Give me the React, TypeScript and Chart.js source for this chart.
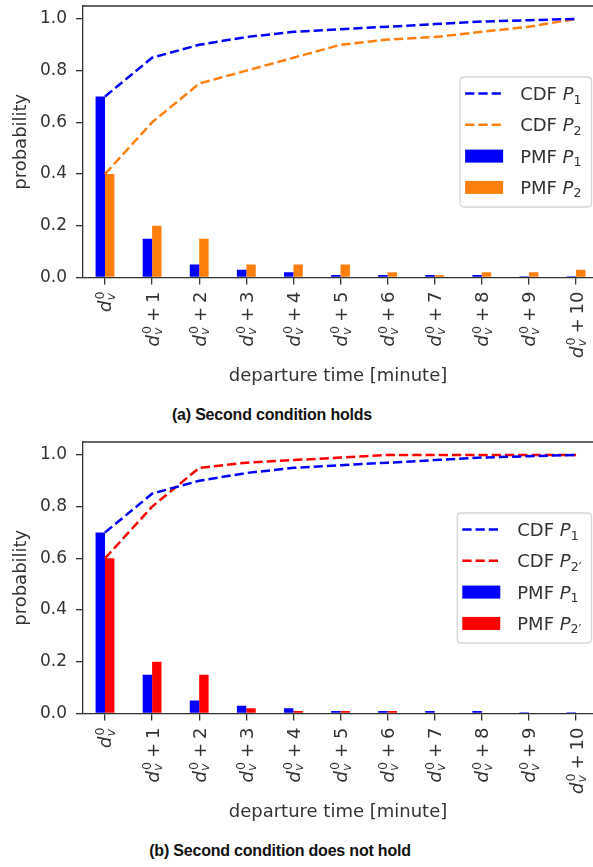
import React, { useEffect, useRef } from 'react';
import { Chart, registerables } from 'chart.js';

Chart.register(...registerables);

// ---------------- data ----------------
const departureLabels = [
  '$d_v^0$', '$d_v^0+1$', '$d_v^0+2$', '$d_v^0+3$', '$d_v^0+4$', '$d_v^0+5$',
  '$d_v^0+6$', '$d_v^0+7$', '$d_v^0+8$', '$d_v^0+9$', '$d_v^0+10$',
];
const yTickValues = [0, 0.2, 0.4, 0.6, 0.8, 1.0];

const pmfP1 = [0.7, 0.15, 0.05, 0.03, 0.02, 0.01, 0.01, 0.01, 0.01, 0.005, 0.005];
const cdfP1 = [0.7, 0.85, 0.9, 0.93, 0.95, 0.96, 0.97, 0.98, 0.99, 0.995, 1.0];

const pmfP2 = [0.4, 0.2, 0.15, 0.05, 0.05, 0.05, 0.02, 0.01, 0.02, 0.02, 0.03];
const cdfP2 = [0.4, 0.6, 0.75, 0.8, 0.85, 0.9, 0.92, 0.93, 0.95, 0.97, 1.0];

const pmfP2prime = [0.6, 0.2, 0.15, 0.02, 0.01, 0.01, 0.01, 0, 0, 0, 0];
const cdfP2prime = [0.6, 0.8, 0.95, 0.97, 0.98, 0.99, 1.0, 1.0, 1.0, 1.0, 1.0];

const labelsA = ['CDF $P_1$', 'CDF $P_2$', 'PMF $P_1$', 'PMF $P_2$'];
const labelsB = ['CDF $P_1$', "CDF $P_{2'}$", 'PMF $P_1$', "PMF $P_{2'}$"];

const xAxisTitle = 'departure time [minute]';
const yAxisTitle = 'probability';
const captionA = '(a) Second condition holds';
const captionB = '(b) Second condition does not hold';

// ---------------- styles ----------------
const FONT = '"DejaVu Sans", Verdana, sans-serif';
const TEXT = '#333333';
const AXIS = '#333333';
const BLUE = '#0000ff';
const ORANGE = '#ff7f0e';
const RED = '#ff0000';
const CANVAS_W = 593;
const CANVAS_H = 400;
const PLOT_TOP = 6;
const PLOT_BOTTOM = 277.5;
const FS = 18;

// ---------------- mini math text ----------------
type Run = { text: string; italic: boolean; level: number; space?: number; math?: boolean };

function parseMath(src: string): Run[] {
  const runs: Run[] = [];
  let inMath = false;
  let i = 0;
  while (i < src.length) {
    const c = src[i];
    if (c === '$') { inMath = !inMath; i++; continue; }
    if (!inMath) {
      const last = runs[runs.length - 1];
      if (last && !last.italic && last.level === 0 && !last.space && !last.math) last.text += c;
      else runs.push({ text: c, italic: false, level: 0 });
      i++;
      continue;
    }
    if (c === '_' || c === '^') {
      const level = c === '_' ? -1 : 1;
      i++;
      let content = '';
      if (src[i] === '{') {
        const j = src.indexOf('}', i);
        content = src.slice(i + 1, j);
        i = j + 1;
      } else {
        content = src[i];
        i++;
      }
      for (const ch of content) {
        runs.push({ text: ch === "'" ? '\u2032' : ch, italic: /[A-Za-z]/.test(ch), level, math: true });
      }
      continue;
    }
    if (c === ' ') { i++; continue; }
    if (c === '+') {
      runs.push({ text: '', italic: false, level: 0, space: 0.22 });
      runs.push({ text: '+', italic: false, level: 0, math: true });
      runs.push({ text: '', italic: false, level: 0, space: 0.22 });
      i++;
      continue;
    }
    const last = runs[runs.length - 1];
    const isIt = /[A-Za-z]/.test(c);
    if (last && last.math && !isIt && !last.italic && last.level === 0 && !last.space && /[0-9]/.test(c) && /[0-9]$/.test(last.text)) {
      last.text += c;
    } else {
      runs.push({ text: c, italic: isIt, level: 0, math: true });
    }
    i++;
  }
  return runs;
}

function fontStr(italic: boolean, size: number) {
  return `${italic ? 'italic ' : ''}${size}px ${FONT}`;
}

function layoutMath(ctx: CanvasRenderingContext2D, src: string, size: number) {
  const runs = parseMath(src);
  const placed: { text: string; font: string; x: number; dy: number }[] = [];
  let x = 0;
  let scriptStart = -1;
  let curX = 0;
  let lastLevel = 0;
  let prevItalic = false;
  for (const r of runs) {
    if (r.space) { x += r.space * size; scriptStart = -1; continue; }
    const fs = r.level === 0 ? size : size * 0.7;
    const f = fontStr(r.italic, fs);
    ctx.font = f;
    const w = ctx.measureText(r.text).width;
    if (r.level !== 0) {
      if (scriptStart < 0) { scriptStart = x; curX = x; lastLevel = r.level; }
      else if (r.level !== lastLevel) { curX = scriptStart; lastLevel = r.level; }
      const kern = r.level > 0 && prevItalic ? size * 0.06 : 0;
      placed.push({ text: r.text, font: f, x: curX + kern, dy: r.level > 0 ? -size * 0.42 : size * 0.2 });
      curX += w;
      x = Math.max(x, curX + kern);
    } else {
      scriptStart = -1;
      placed.push({ text: r.text, font: f, x, dy: 0 });
      x += w;
      prevItalic = r.italic;
    }
  }
  return { placed, width: x };
}

function drawMath(ctx: CanvasRenderingContext2D, src: string, x: number, y: number, size: number, align: 'left' | 'right', color: string) {
  const { placed, width } = layoutMath(ctx, src, size);
  const x0 = align === 'right' ? x - width : x;
  ctx.fillStyle = color;
  ctx.textAlign = 'left';
  ctx.textBaseline = 'alphabetic';
  for (const p of placed) {
    ctx.font = p.font;
    ctx.fillText(p.text, x0 + p.x, y + p.dy);
  }
  return width;
}

// ---------------- plugin ----------------
const decorPlugin = {
  id: 'decor',
  afterDraw(chart: any, _args: any, opts: any) {
    const { ctx, chartArea } = chart;
    const xScale = chart.scales.x;
    ctx.save();
    // top spine
    ctx.strokeStyle = AXIS;
    ctx.lineWidth = 1.3;
    ctx.beginPath();
    ctx.moveTo(chartArea.left, chartArea.top);
    ctx.lineTo(chartArea.right, chartArea.top);
    ctx.stroke();

    // rotated x tick labels
    const labels: string[] = opts.tickLabels || [];
    xScale.ticks.forEach((t: any) => {
      const px = xScale.getPixelForValue(t.value);
      const lab = labels[t.value];
      if (lab === undefined) return;
      ctx.save();
      ctx.translate(px, chartArea.bottom + 14);
      ctx.rotate(-Math.PI / 2);
      drawMath(ctx, lab, 0, FS * 0.36, FS, 'right', TEXT);
      ctx.restore();
    });

    // legend
    const items: { label: string; kind: string; color: string }[] = opts.legendItems || [];
    if (items.length) {
      let maxW = 0;
      for (const it of items) maxW = Math.max(maxW, layoutMath(ctx, it.label, FS).width);
      const padL = 5, handleLen = 38, gap = 17, padR = 10;
      const boxW = padL + handleLen + gap + maxW + padR;
      const right = chartArea.right - 1.5;
      const left = right - boxW;
      const top = chartArea.top + 71;
      const rowH = 31.3;
      const firstRow = 16.5;
      const boxH = 130;
      const r = 4;
      ctx.beginPath();
      ctx.moveTo(left + r, top);
      ctx.lineTo(right - r, top);
      ctx.quadraticCurveTo(right, top, right, top + r);
      ctx.lineTo(right, top + boxH - r);
      ctx.quadraticCurveTo(right, top + boxH, right - r, top + boxH);
      ctx.lineTo(left + r, top + boxH);
      ctx.quadraticCurveTo(left, top + boxH, left, top + boxH - r);
      ctx.lineTo(left, top + r);
      ctx.quadraticCurveTo(left, top, left + r, top);
      ctx.closePath();
      ctx.fillStyle = 'rgba(255,255,255,0.8)';
      ctx.fill();
      ctx.strokeStyle = 'rgba(204,204,204,0.8)';
      ctx.lineWidth = 1.3;
      ctx.stroke();
      items.forEach((it, k) => {
        const cy = top + firstRow + k * rowH;
        const hx = left + padL;
        if (it.kind === 'line') {
          ctx.save();
          ctx.strokeStyle = it.color;
          ctx.lineWidth = 2.5;
          ctx.setLineDash([9.25, 4]);
          ctx.beginPath();
          ctx.moveTo(hx, cy);
          ctx.lineTo(hx + handleLen, cy);
          ctx.stroke();
          ctx.restore();
        } else {
          ctx.fillStyle = it.color;
          ctx.fillRect(hx, cy - 6.5, handleLen, 13);
        }
        drawMath(ctx, it.label, hx + handleLen + gap, cy + FS * 0.36, FS, 'left', TEXT);
      });
    }
    ctx.restore();
  },
};

// ---------------- chart component ----------------
type Props = {
  top: number;
  pmf2: number[];
  cdf2: number[];
  color2: string;
  legendLabels: string[];
};

function ProbChart({ top, pmf2, cdf2, color2, legendLabels }: Props) {
  const ref = useRef<HTMLCanvasElement | null>(null);
  useEffect(() => {
    if (!ref.current) return;
    const pts = (arr: number[]) => arr.map((y, i) => ({ x: i, y }));
    const axisFont = { family: FONT, size: FS };
    const chart = new Chart(ref.current, {
      type: 'bar',
      data: {
        datasets: [
          { type: 'bar', label: legendLabels[2], data: pts(pmfP1), backgroundColor: BLUE, borderWidth: 0, categoryPercentage: 0.4, barPercentage: 1.0, order: 1 } as any,
          { type: 'bar', label: legendLabels[3], data: pts(pmf2), backgroundColor: color2, borderWidth: 0, categoryPercentage: 0.4, barPercentage: 1.0, order: 1 } as any,
          { type: 'line', label: legendLabels[0], data: pts(cdfP1), borderColor: BLUE, borderWidth: 2.5, borderDash: [9.25, 4], pointRadius: 0, fill: false, tension: 0, order: 0 } as any,
          { type: 'line', label: legendLabels[1], data: pts(cdf2), borderColor: color2, borderWidth: 2.5, borderDash: [9.25, 4], pointRadius: 0, fill: false, tension: 0, order: 0 } as any,
        ],
      },
      options: {
        responsive: false,
        animation: false,
        events: [],
        layout: { padding: { top: PLOT_TOP, left: 0, right: 0, bottom: 0 } },
        scales: {
          x: {
            type: 'linear',
            min: -0.467,
            max: 10.36,
            offset: false,
            afterBuildTicks: (s: any) => { s.ticks = departureLabels.map((_, i) => ({ value: i })); },
            afterFit: (s: any) => { s.height = CANVAS_H - PLOT_BOTTOM; s.paddingLeft = 0; s.paddingRight = 0; },
            ticks: { display: false },
            grid: { drawOnChartArea: false, drawTicks: true, tickLength: 7, color: AXIS, lineWidth: 1.3, offset: false },
            border: { display: true, color: AXIS, width: 1.3 },
            title: { display: true, text: xAxisTitle, font: axisFont, color: TEXT, padding: { top: 0, bottom: 13 } },
          },
          y: {
            type: 'linear',
            min: 0,
            max: 1.05,
            afterBuildTicks: (s: any) => { s.ticks = yTickValues.map((v) => ({ value: v })); },
            afterFit: (s: any) => { s.width = 83; s.paddingTop = 0; s.paddingBottom = 0; },
            ticks: { callback: (v: any) => Number(v).toFixed(1), font: { family: FONT, size: 17 }, color: TEXT, padding: 9 },
            grid: { drawOnChartArea: false, drawTicks: true, tickLength: 7, color: AXIS, lineWidth: 1.3 },
            border: { display: true, color: AXIS, width: 1.3 },
            title: { display: true, text: yAxisTitle, font: axisFont, color: TEXT, padding: { top: 11, bottom: 0 } },
          },
        },
        plugins: {
          legend: { display: false },
          tooltip: { enabled: false },
          decor: {
            tickLabels: departureLabels,
            legendItems: [
              { label: legendLabels[0], kind: 'line', color: BLUE },
              { label: legendLabels[1], kind: 'line', color: color2 },
              { label: legendLabels[2], kind: 'bar', color: BLUE },
              { label: legendLabels[3], kind: 'bar', color: color2 },
            ],
          },
        } as any,
      },
      plugins: [decorPlugin as any],
    });
    return () => chart.destroy();
  }, []);
  return (
    <canvas
      ref={ref}
      width={CANVAS_W}
      height={CANVAS_H}
      style={{ position: 'absolute', left: 0, top, width: CANVAS_W, height: CANVAS_H }}
    />
  );
}

const captionStyle: React.CSSProperties = {
  position: 'absolute',
  transform: 'translate(-50%, -50%)',
  font: 'bold 16px "Liberation Sans", Arial, sans-serif',
  letterSpacing: '-0.2px',
  color: '#111',
  whiteSpace: 'nowrap',
  lineHeight: 1,
};

export default function App() {
  return (
    <div style={{ position: 'absolute', left: 0, top: 0, width: 593, height: 867, overflow: 'hidden', background: '#fff' }}>
      <ProbChart top={0} pmf2={pmfP2} cdf2={cdfP2} color2={ORANGE} legendLabels={labelsA} />
      <div style={{ ...captionStyle, left: 272, top: 415 }}>{captionA}</div>
      <ProbChart top={436} pmf2={pmfP2prime} cdf2={cdfP2prime} color2={RED} legendLabels={labelsB} />
      <div style={{ ...captionStyle, left: 280, top: 851 }}>{captionB}</div>
    </div>
  );
}
